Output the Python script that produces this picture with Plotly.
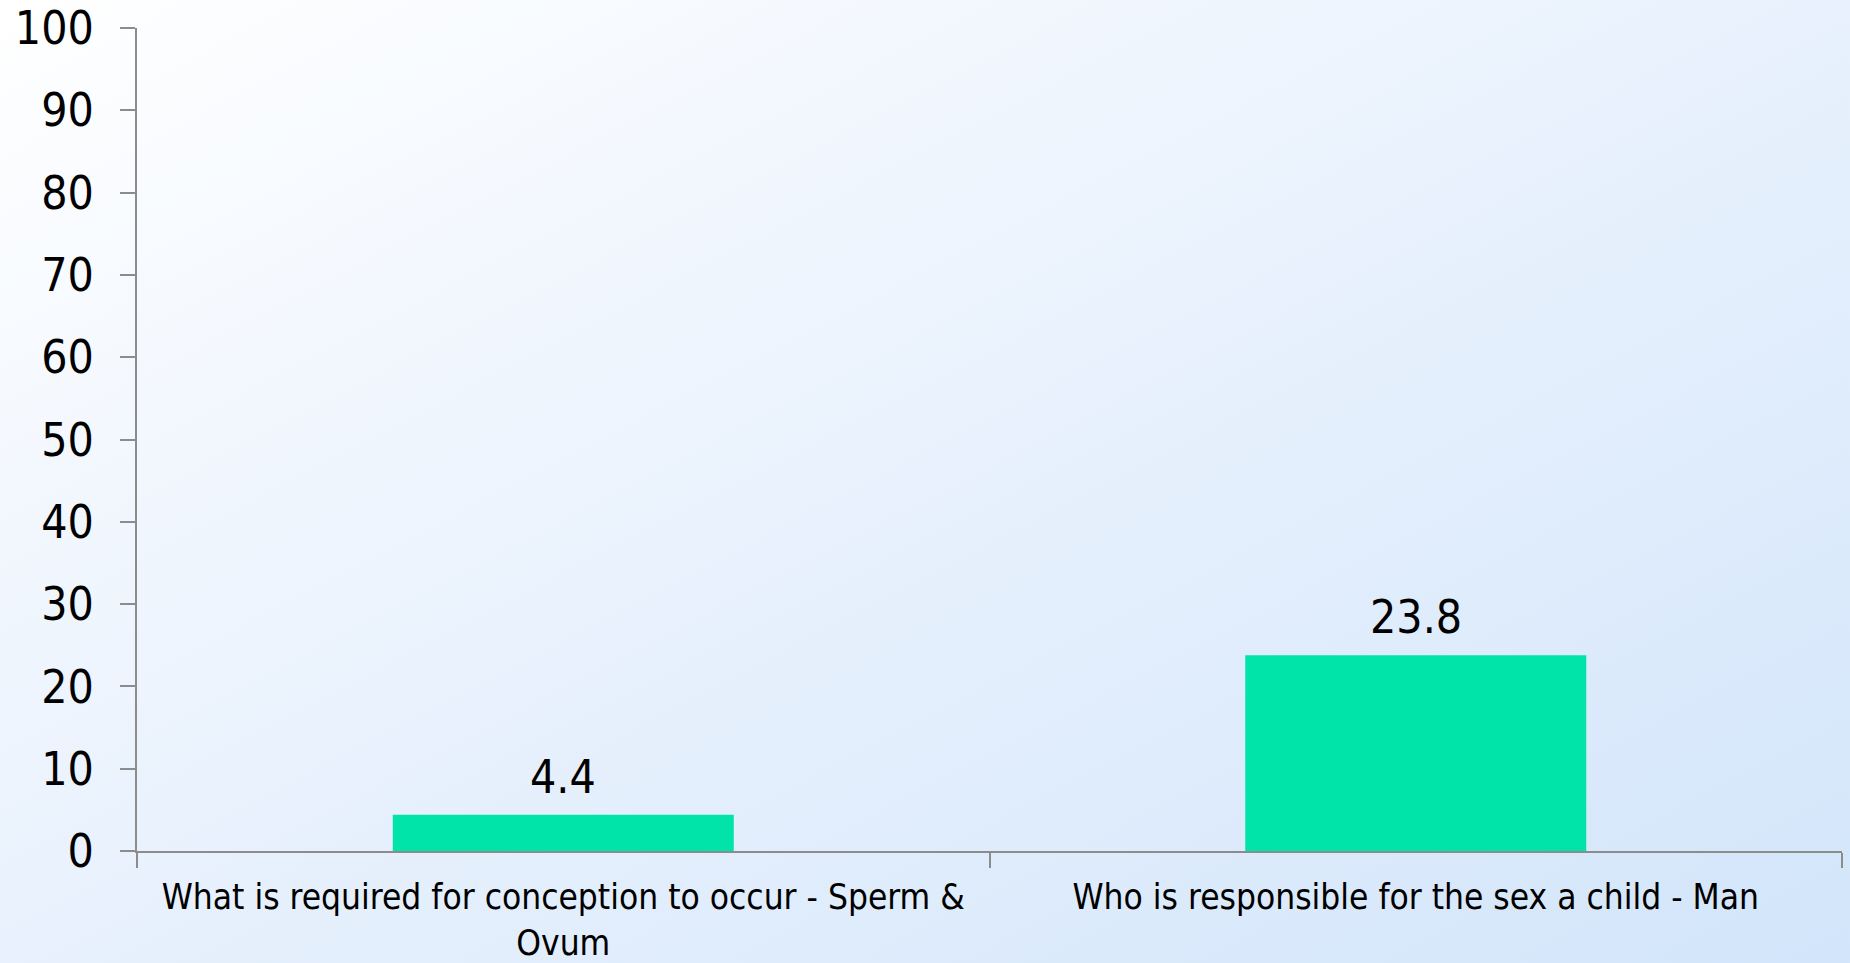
import urllib.parse
import plotly.graph_objects as go

categories = [
    "What is required for conception to occur - Sperm &<br>Ovum",
    "Who is responsible for the sex a child - Man",
]
values = [4.4, 23.8]
value_labels = ["4.4", "23.8"]
y_ticks = [0, 10, 20, 30, 40, 50, 60, 70, 80, 90, 100]

W, H = 1850, 963
ML, MR, MT, MB = 137, 8, 28, 112
PW, PH = W - ML - MR, H - MT - MB

FONT = "'DejaVu Sans Condensed', Tahoma, 'DejaVu Sans', sans-serif"

svg = (
    "<svg xmlns='http://www.w3.org/2000/svg' width='1850' height='963' preserveAspectRatio='none'>"
    "<defs><linearGradient id='g' x1='0' y1='0' x2='1' y2='1'>"
    "<stop offset='0' stop-color='#ffffff'/>"
    "<stop offset='0.5' stop-color='#e8f1fd'/>"
    "<stop offset='1' stop-color='#d2e5fa'/>"
    "</linearGradient></defs>"
    "<rect width='1850' height='963' fill='url(#g)'/></svg>"
)
bg_src = "data:image/svg+xml;charset=utf-8," + urllib.parse.quote(svg)

fig = go.Figure(
    go.Bar(
        x=categories,
        y=values,
        marker=dict(color="#00e4a9", line=dict(width=0)),
        width=0.4,
        hoverinfo="x+y",
    )
)

for c, v, t in zip(categories, values, value_labels):
    fig.add_annotation(
        x=c, y=v, text=t, showarrow=False,
        yanchor="bottom", yshift=9,
        font=dict(size=46, color="black", family=FONT),
    )

fig.update_layout(
    width=W,
    height=H,
    autosize=False,
    margin=dict(l=ML, r=MR, t=MT, b=MB, pad=0, autoexpand=False),
    paper_bgcolor="#eaf3fd",
    plot_bgcolor="rgba(0,0,0,0)",
    showlegend=False,
    font=dict(family=FONT, color="black"),
    images=[
        dict(
            source=bg_src,
            xref="paper",
            yref="paper",
            x=-ML / PW,
            y=1 + MT / PH,
            sizex=W / PW,
            sizey=H / PH,
            xanchor="left",
            yanchor="top",
            sizing="stretch",
            layer="below",
        )
    ],
)

fig.update_yaxes(
    range=[0, 100],
    tickvals=y_ticks,
    ticks="outside",
    ticklen=15,
    tickwidth=2,
    tickcolor="#8c8c8c",
    showline=True,
    linecolor="#8c8c8c",
    linewidth=2,
    showgrid=False,
    zeroline=False,
    tickfont=dict(size=46, family=FONT),
    ticklabelstandoff=17,
)
fig.update_xaxes(
    ticks="outside",
    tickson="boundaries",
    ticklen=15,
    tickwidth=2,
    tickcolor="#8c8c8c",
    showline=True,
    linecolor="#8c8c8c",
    linewidth=2,
    showgrid=False,
    tickangle=0,
    tickfont=dict(size=35, family=FONT),
    ticklabelstandoff=14,
)

fig.write_html(
    "out.html",
    config={"responsive": False, "displayModeBar": False},
    post_script="document.body.style.margin='0';document.body.style.overflow='hidden';",
)
